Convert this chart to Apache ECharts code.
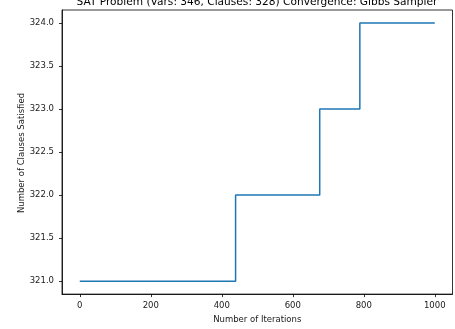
<!DOCTYPE html>
<html><head><meta charset="utf-8">
<script src="https://cdn.jsdelivr.net/npm/echarts@6/dist/echarts.min.js"></script>
<style>html,body{margin:0;padding:0;background:#fff}#c{width:455px;height:329px}</style>
</head><body><div id="c"></div>
<script>
const iterations = [0, 439, 676, 789, 1000];
const clausesSatisfied = [321, 322, 323, 324, 324];
const xTicks = [0, 200, 400, 600, 800, 1000];
const yTicks = [321.0, 321.5, 322.0, 322.5, 323.0, 323.5, 324.0];

const chart = echarts.init(document.getElementById('c'), null, {renderer: 'canvas'});
const font = 'DejaVu Sans';
const txt = '#1a1a1a';
chart.setOption({
  animation: false,
  backgroundColor: '#fff',
  graphic: [{
    type: 'text', x: 257, y: 7.5,
    style: {
      text: 'SAT Problem (Vars: 346, Clauses: 328) Convergence: Gibbs Sampler',
      align: 'center', verticalAlign: 'bottom',
      font: '10.6px "DejaVu Sans"', fill: '#000'
    }
  }, {
    type: 'text', x: 21.5, y: 153, rotation: Math.PI / 2,
    style: {
      text: 'Number of Clauses Satisfied',
      align: 'center', verticalAlign: 'middle',
      font: '8.5px "DejaVu Sans"', fill: txt
    }
  }],
  grid: {left: 62, right: 2.5, top: 10, bottom: 34, show: true, borderColor: '#000', borderWidth: 0.8, backgroundColor: 'transparent'},
  xAxis: {
    type: 'value', min: -50, max: 1050,
    name: 'Number of Iterations', nameLocation: 'middle', nameGap: 17,
    nameTextStyle: {fontFamily: font, fontSize: 8.5, color: txt},
    axisLine: {show: true, onZero: false, lineStyle: {color: '#000', width: 0.8}},
    axisTick: {show: true, length: 3, lineStyle: {color: '#000', width: 0.8}, customValues: xTicks},
    axisLabel: {fontFamily: font, fontSize: 8.5, color: txt, margin: 7, customValues: xTicks,
      formatter: v => String(v)},
    splitLine: {show: false}
  },
  yAxis: {
    type: 'value', min: 320.85, max: 324.15,
    axisLine: {show: true, onZero: false, lineStyle: {color: '#000', width: 0.8}},
    axisTick: {show: true, length: 3, lineStyle: {color: '#000', width: 0.8}, customValues: yTicks},
    axisLabel: {fontFamily: font, fontSize: 8.5, color: txt, margin: 8, customValues: yTicks,
      formatter: v => v.toFixed(1)},
    splitLine: {show: false}
  },
  series: [{
    type: 'line', step: 'end', showSymbol: false,
    data: iterations.map((x, i) => [x, clausesSatisfied[i]]),
    lineStyle: {color: '#1f77b4', width: 1.5}
  }]
});
</script></body></html>
